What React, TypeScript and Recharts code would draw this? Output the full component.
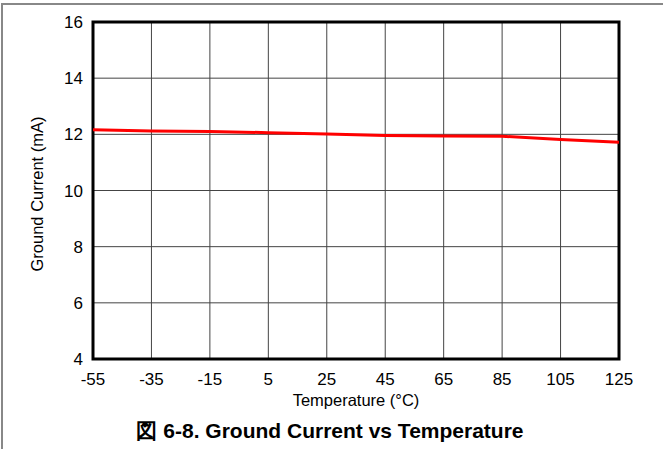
import React from "react"
import { LineChart, Line, XAxis, YAxis, CartesianGrid, ReferenceArea } from "recharts"

const temperatures = [-55, -35, -15, 5, 25, 45, 65, 85, 105, 125]
const groundCurrent = [12.16, 12.12, 12.1, 12.06, 12.01, 11.96, 11.94, 11.93, 11.82, 11.72]
const xTicks = [-55, -35, -15, 5, 25, 45, 65, 85, 105, 125]
const yTicks = [4, 6, 8, 10, 12, 14, 16]

const data = temperatures.map((t, i) => ({ temp: t, current: groundCurrent[i] }))

const FONT = "'Liberation Sans', Arial, sans-serif"

const App = () => {
    return (
        <div style={{ position: "absolute", left: 0, top: 0, width: 663, height: 449, background: "#fff", fontFamily: FONT }}>
            <div style={{ position: "absolute", left: 1, top: 3, width: 662, height: 446, borderLeft: "2px solid #888", borderTop: "2px solid #888", boxSizing: "border-box" }} />
            <LineChart width={663} height={449} data={data} margin={{ top: 22, right: 44, bottom: 60, left: 0 }}>
                <CartesianGrid stroke="#444" strokeWidth={1} horizontalValues={yTicks} verticalValues={xTicks} />
                <XAxis
                    dataKey="temp"
                    type="number"
                    domain={[-55, 125]}
                    ticks={xTicks}
                    axisLine={false}
                    tickLine={false}
                    tickMargin={8}
                    height={30}
                    interval={0}
                    tick={{ fill: "#000", fontSize: 17, fontFamily: FONT }}
                />
                <YAxis
                    type="number"
                    domain={[4, 16]}
                    ticks={yTicks}
                    axisLine={false}
                    tickLine={false}
                    tickMargin={4}
                    width={93}
                    interval={0}
                    tick={{ fill: "#000", fontSize: 17, fontFamily: FONT }}
                />
                <Line
                    dataKey="current"
                    stroke="#ff0000"
                    strokeWidth={3}
                    dot={false}
                    type="linear"
                    isAnimationActive={false}
                />
                <ReferenceArea x1={-55} x2={125} y1={4} y2={16} fill="none" stroke="#000" strokeWidth={3} ifOverflow="visible" />
            </LineChart>
            <div style={{ position: "absolute", left: 37, top: 194, transform: "translate(-50%, -50%) rotate(-90deg)", fontSize: 16.5, whiteSpace: "nowrap" }}>
                Ground Current (mA)
            </div>
            <div style={{ position: "absolute", left: 356, top: 400, transform: "translate(-50%, -50%)", fontSize: 16.5, whiteSpace: "nowrap" }}>
                Temperature (°C)
            </div>
            <div style={{ position: "absolute", left: 330, top: 431, transform: "translate(-50%, -50%)", fontSize: 21, fontWeight: "bold", whiteSpace: "nowrap" }}>
                図 6-8. Ground Current vs Temperature
            </div>
        </div>
    )
}

export default App
